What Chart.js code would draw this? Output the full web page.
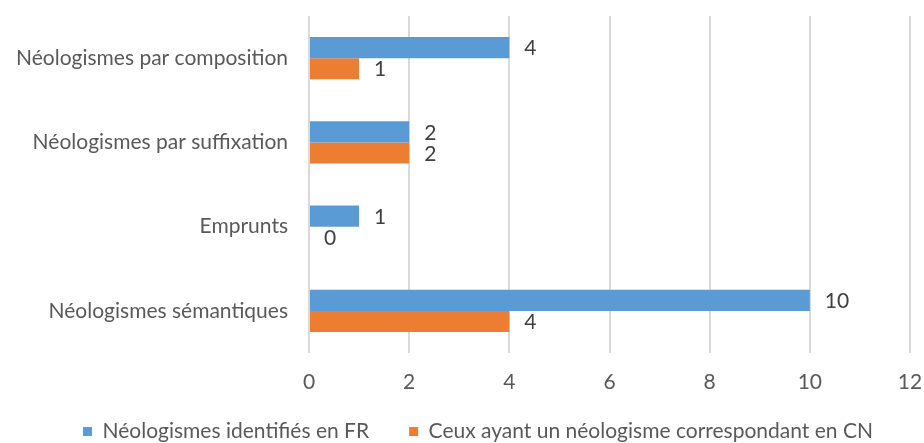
<!DOCTYPE html>
<html>
<head>
<meta charset="utf-8">
<script src="https://cdn.jsdelivr.net/npm/chart.js@4.4.1/dist/chart.umd.min.js"></script>
<style>
  html, body { margin: 0; padding: 0; background: #fff; overflow: hidden; }
  .chart-box { position: relative; width: 924px; height: 452px; }
</style>
</head>
<body>
<div class="chart-box">
  <canvas id="neoChart"></canvas>
</div>
<script>
// categories and the two series
const categories = [
  'Néologismes par composition',
  'Néologismes par suffixation',
  'Emprunts',
  'Néologismes sémantiques'
];
const identifiesFR = [4, 2, 1, 10];
const correspondantCN = [1, 2, 0, 4];
const xTicks = [0, 2, 4, 6, 8, 10, 12];

const FONT = 'Lato, "Open Sans", sans-serif';
const TEXT_SIZE = 21;

// value labels printed just right of each bar end
const barValues = {
  id: 'barValues',
  afterDatasetsDraw(chart) {
    const ctx = chart.ctx;
    ctx.save();
    ctx.font = TEXT_SIZE + 'px ' + FONT;
    ctx.fillStyle = '#404040';
    ctx.textAlign = 'left';
    ctx.textBaseline = 'middle';
    chart.data.datasets.forEach((ds, i) => {
      chart.getDatasetMeta(i).data.forEach((bar, j) => {
        ctx.fillText(ds.data[j], bar.x + 15, bar.y + 1);
      });
    });
    ctx.restore();
  }
};

// legend sits a bit right of centre; x tick labels may run into the legend band
const layoutTweaks = {
  id: 'layoutTweaks',
  afterLayout(chart) {
    chart.legend.left += 23;
    chart.legend.right += 23;
    chart.scales.x.bottom = chart.height;
  }
};

function neoChart() {
  const ctx = document.getElementById('neoChart');
  new Chart(ctx, {
    type: 'bar',
    data: {
      labels: categories,
      datasets: [
        {
          label: 'Néologismes identifiés en FR',
          data: identifiesFR,
          backgroundColor: '#5B9BD5',
          categoryPercentage: 0.5,
          barPercentage: 1
        },
        {
          label: 'Ceux ayant un néologisme correspondant en CN',
          data: correspondantCN,
          backgroundColor: '#ED7D31',
          categoryPercentage: 0.5,
          barPercentage: 1
        }
      ]
    },
    options: {
      indexAxis: 'y',
      responsive: true,
      maintainAspectRatio: false,
      animation: false,
      layout: { padding: { top: 16, right: 14, left: 0, bottom: 0 } },
      scales: {
        x: {
          min: 0,
          max: 12,
          afterBuildTicks(scale) {
            scale.ticks = xTicks.map(v => ({ value: v }));
          },
          afterFit(scale) {
            scale.height = 28;
            scale.paddingLeft = 0;
            scale.paddingRight = 0;
          },
          grid: { color: '#d9d9d9', lineWidth: 2, drawTicks: false },
          border: { display: false },
          ticks: { color: '#595959', font: { family: FONT, size: TEXT_SIZE }, padding: 17 }
        },
        y: {
          afterFit(scale) {
            scale.width = 309;
            scale.paddingTop = 0;
            scale.paddingBottom = 0;
          },
          grid: { display: false, drawTicks: false },
          border: { display: false },
          ticks: { color: '#595959', font: { family: FONT, size: TEXT_SIZE }, padding: 21 }
        }
      },
      plugins: {
        tooltip: { enabled: false },
        legend: {
          position: 'bottom',
          labels: {
            color: '#595959',
            font: { family: FONT, size: TEXT_SIZE },
            boxWidth: 9,
            boxHeight: 9,
            padding: 40
          }
        }
      }
    },
    plugins: [barValues, layoutTweaks]
  });
}

neoChart();
</script>
</body>
</html>
